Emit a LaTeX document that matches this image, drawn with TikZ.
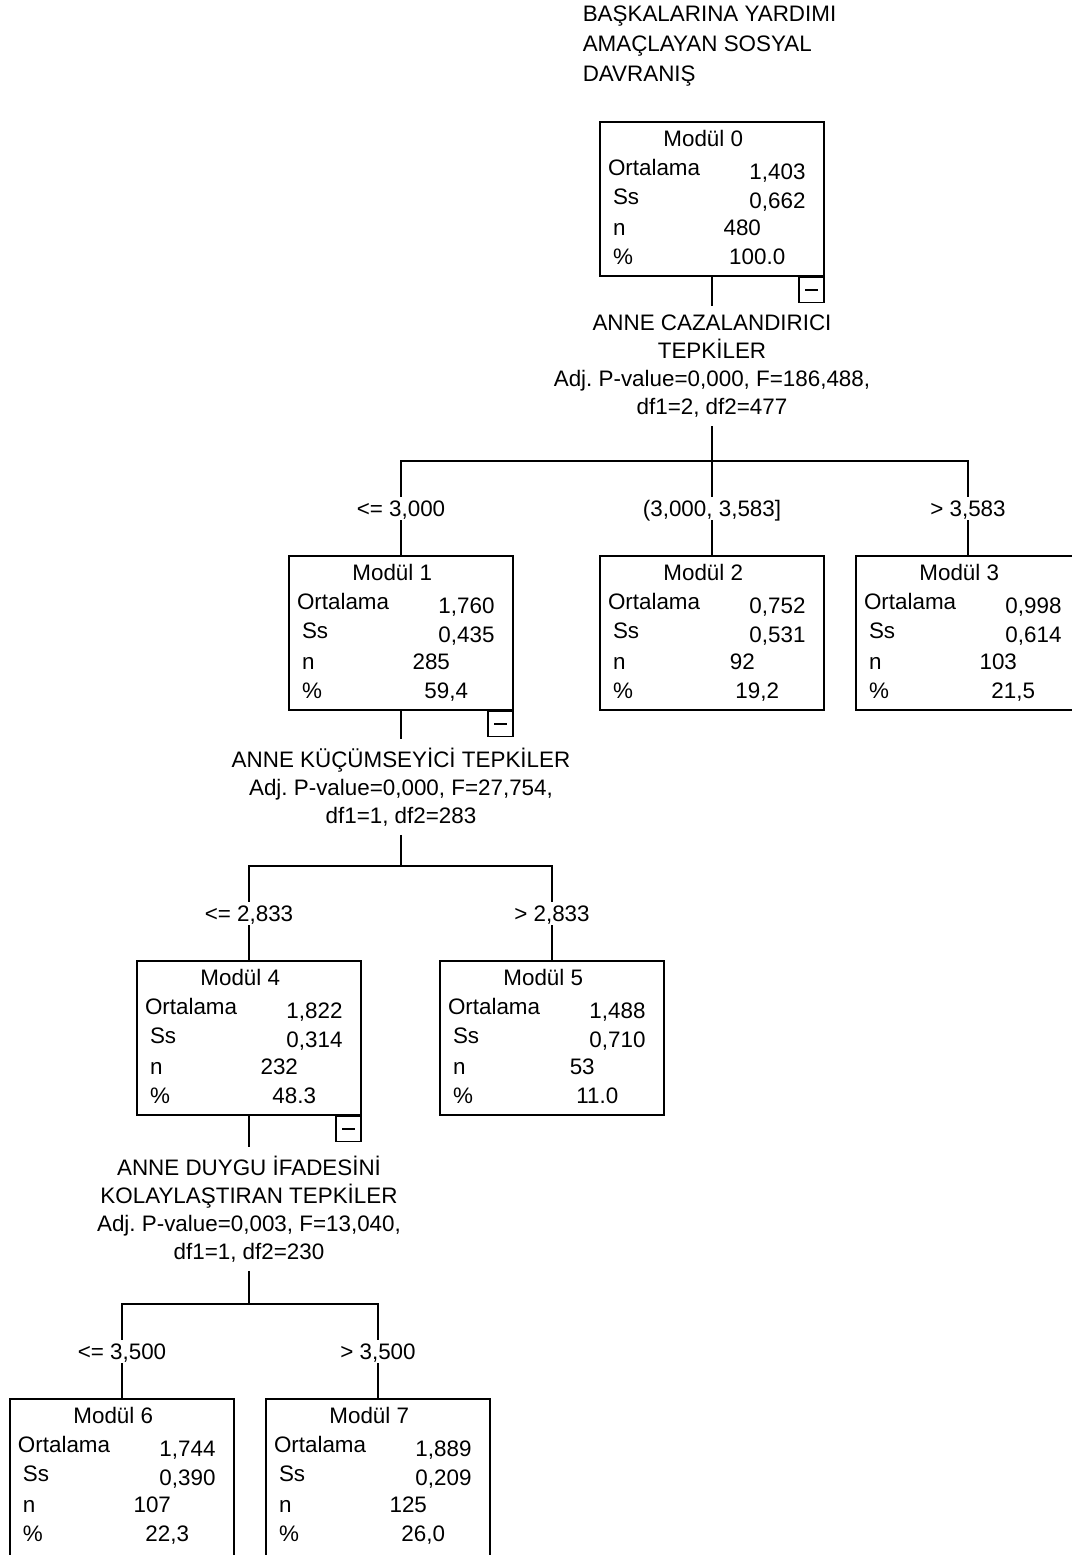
\documentclass[tikz,border=0pt]{standalone}
\usepackage{fontspec}
\setmainfont{Liberation Sans}
\usetikzlibrary{calc,positioning}
\frenchspacing

% one statistics box: name, number, mean, sd, n, percent
\newcommand{\modulbox}[6]{%
  \node[lab, anchor=center] (#1t) at ($(#1.north west)+(104,17)$) {Modül #2};
  \node[lab] (#1a) at ($(#1.north west)+(8,46)$) {Ortalama};
  \node[lab] (#1b) at ($(#1.north west)+(13,75)$) {Ss};
  \node[lab] (#1c) at ($(#1.north west)+(13,106)$) {n};
  \node[lab] (#1d) at ($(#1.north west)+(13,135)$) {\%};
  \node[val] (#1e) at ($(#1.north west)+(207,50)$) {#3};
  \node[val] (#1f) at ($(#1.north west)+(207,79)$) {#4};
  \node[lab, anchor=center] (#1g) at ($(#1.north west)+(143,106)$) {#5};
  \node[lab, anchor=center] (#1h) at ($(#1.north west)+(158,135)$) {#6};
}

\begin{document}
\begin{tikzpicture}[x=0.5pt, y=-0.5pt, line width=0.75pt,
    font=\fontsize{11.2}{14}\selectfont,
    modul/.style={draw, rectangle, minimum width=112pt, minimum height=77pt, inner sep=0pt},
    leaf/.style={modul, minimum height=85pt},
    lab/.style={inner sep=0pt, text height=8pt, text depth=0pt, anchor=west},
    val/.style={lab, anchor=east},
    split/.style={align=center, inner sep=4pt},
    elbl/.style={fill=white, inner sep=1.8pt, text height=8pt, text depth=0pt},
    collapse/.style={draw, rectangle, minimum size=12.5pt, inner sep=0pt, anchor=north east,
      path picture={\draw ([xshift=3pt]path picture bounding box.west) -- ([xshift=-3pt]path picture bounding box.east);}}]
		\useasboundingbox (0,0) rectangle (1072,1555);
		\clip (0,0) rectangle (1072,1555);
		
		\node[align=left, anchor=west, inner sep=0pt, font=\fontsize{11.2}{15}\selectfont] (title) at (582,46) {BAŞKALARINA YARDIMI\\AMAÇLAYAN SOSYAL\\DAVRANIŞ};
		
		% boxes
		\node[modul] (m0) at (712,199) {};
		\node[modul] (m1) at (401,633) {};
		\node[modul] (m2) at (712,633) {};
		\node[modul] (m3) at (968,633) {};
		\node[modul] (m4) at (249,1038) {};
		\node[modul] (m5) at (552,1038) {};
		\node[leaf] (m6) at (122,1484) {};
		\node[leaf] (m7) at (378,1484) {};
		
		\node[collapse] (c0) at (m0.south east) {};
		\node[collapse] (c1) at (m1.south east) {};
		\node[collapse] (c4) at (m4.south east) {};
		
		\modulbox{m0}{0}{1,403}{0,662}{480}{100.0}
		\modulbox{m1}{1}{1,760}{0,435}{285}{59,4}
		\modulbox{m2}{2}{0,752}{0,531}{92}{19,2}
		\modulbox{m3}{3}{0,998}{0,614}{103}{21,5}
		\modulbox{m4}{4}{1,822}{0,314}{232}{48.3}
		\modulbox{m5}{5}{1,488}{0,710}{53}{11.0}
		\modulbox{m6}{6}{1,744}{0,390}{107}{22,3}
		\modulbox{m7}{7}{1,889}{0,209}{125}{26,0}
		
		% split variables
		\node[split] (s0) at (712,366) {ANNE CAZALANDIRICI\\TEPKİLER\\Adj. P-value=0,000, F=186,488,\\df1=2, df2=477};
		\node[split] (s1) at (401,787) {ANNE KÜÇÜMSEYİCİ TEPKİLER\\Adj. P-value=0,000, F=27,754,\\df1=1, df2=283};
		\node[split] (s2) at (249,1209) {ANNE DUYGU İFADESİNİ\\KOLAYLAŞTIRAN TEPKİLER\\Adj. P-value=0,003, F=13,040,\\df1=1, df2=230};
		
		\coordinate (j0) at (712,461);
		\coordinate (j1) at (401,866);
		\coordinate (j2) at (249,1304);
		
		% branches
		\draw (m0) -- (s0);
		\draw (s0) -- (j0);
		\draw (m1) |- node[pos=.25, elbl] {<= 3,000} (j0) -| node[pos=.75, elbl] {> 3,583} (m3);
		\draw (j0) -- node[elbl] {(3,000, 3,583]} (m2);
		
		\draw (m1) -- (s1);
		\draw (s1) -- (j1);
		\draw (m4) |- node[pos=.25, elbl] {<= 2,833} (j1) -| node[pos=.75, elbl] {> 2,833} (m5);
		
		\draw (m4) -- (s2);
		\draw (s2) -- (j2);
		\draw (m6) |- node[pos=.25, elbl] {<= 3,500} (j2) -| node[pos=.75, elbl] {> 3,500} (m7);
\end{tikzpicture}
\end{document}
